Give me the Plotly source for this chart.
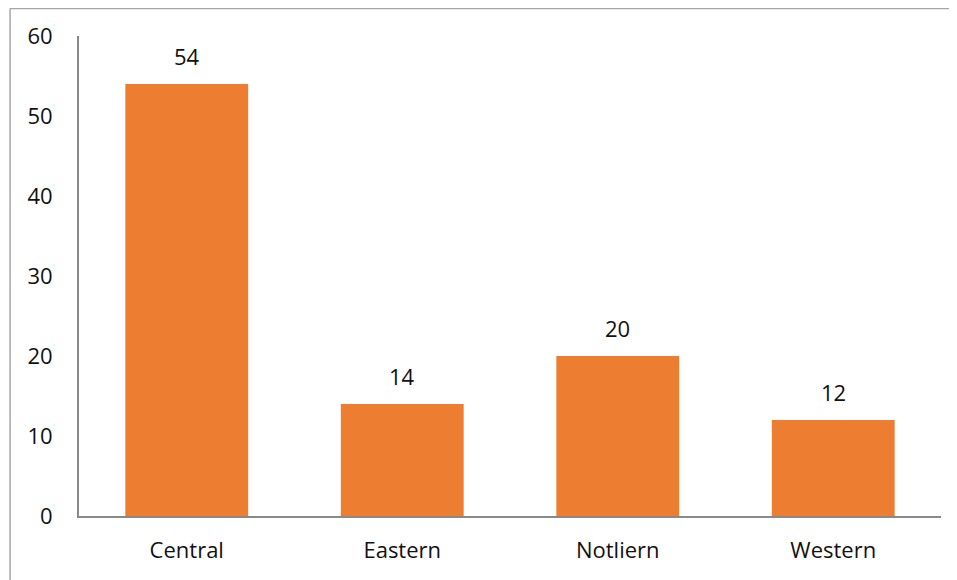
import plotly.graph_objects as go

categories = ["Central", "Eastern", "Notliern", "Western"]
values = [54, 14, 20, 12]
y_ticks = [0, 10, 20, 30, 40, 50, 60]

FONT = "Open Sans, Liberation Sans, sans-serif"
TXT = "#111111"

fig = go.Figure()
fig.add_trace(go.Bar(
    x=categories, y=values,
    marker=dict(color="#ED7D31", line=dict(width=0)),
    width=0.57,
))

for c, v in zip(categories, values):
    fig.add_annotation(x=c, y=v, text=str(v), showarrow=False,
                       yshift=28, font=dict(family=FONT, size=22, color=TXT))

# outer chart-area border (left and top edges visible in the crop)
fig.add_shape(type="line", xref="paper", yref="paper",
              x0=-0.080, x1=-0.080, y0=-0.3, y1=1.0573,
              line=dict(color="#A6A6A6", width=1.5), layer="below")
fig.add_shape(type="line", xref="paper", yref="paper",
              x0=-0.080, x1=1.2, y0=1.0573, y1=1.0573,
              line=dict(color="#A6A6A6", width=1.5), layer="below")

fig.update_layout(
    width=957, height=580,
    margin=dict(l=71, r=24, t=28, b=72),
    paper_bgcolor="white", plot_bgcolor="white",
    showlegend=False,
    bargap=0.43,
    font=dict(family=FONT, size=22, color=TXT),
)
fig.update_xaxes(showline=True, linecolor="#898989", linewidth=2,
                 showgrid=False, ticks="", ticklabelstandoff=14,
                 tickfont=dict(family=FONT, size=22, color=TXT))
fig.update_yaxes(range=[0, 60], tickvals=y_ticks, showline=True,
                 linecolor="#898989", linewidth=2, showgrid=False,
                 ticks="", ticklabelstandoff=20, zeroline=False,
                 tickfont=dict(family=FONT, size=22, color=TXT))

fig.write_html("out.html")
